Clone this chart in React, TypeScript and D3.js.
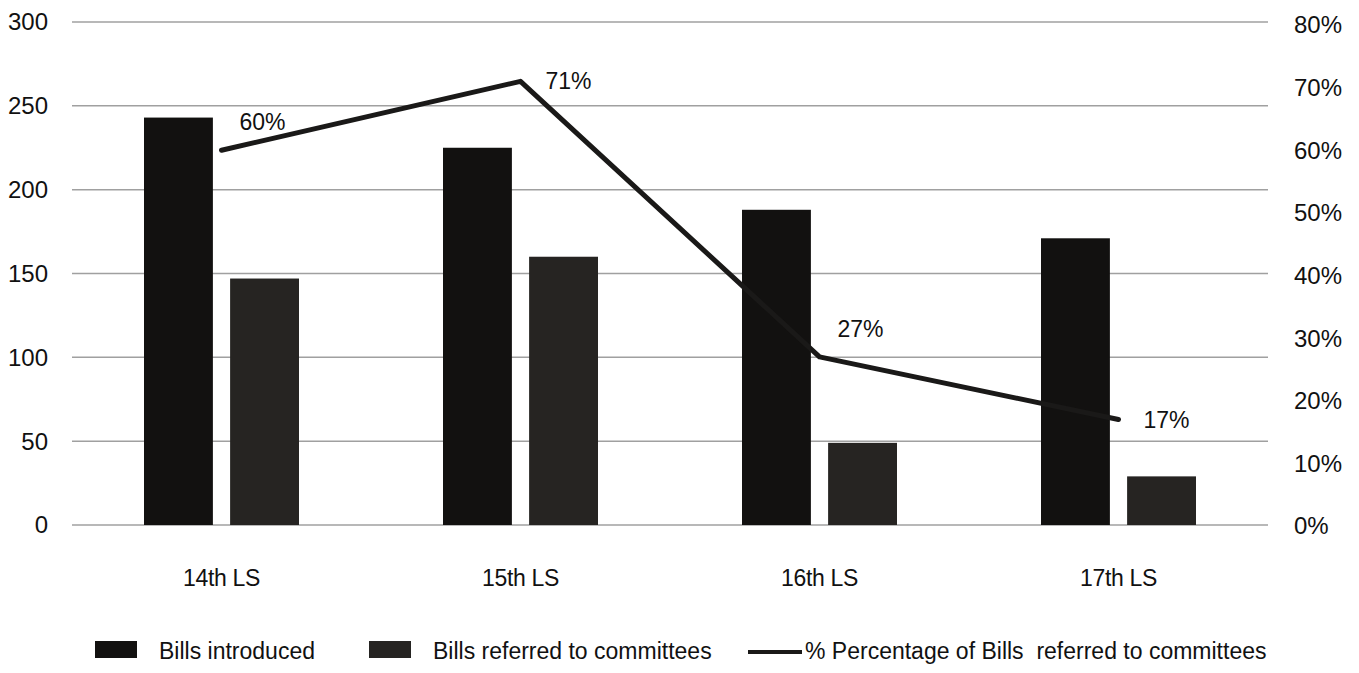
import React, { useEffect, useRef } from 'react';
import * as d3 from 'd3';

const sessions = ['14th LS', '15th LS', '16th LS', '17th LS'];
const billsIntroduced = [243, 225, 188, 171];
const billsReferred = [147, 160, 49, 29];
const pctReferred = [0.6, 0.71, 0.27, 0.17];
const leftTicks = [0, 50, 100, 150, 200, 250, 300];
const rightTicks = [0, 0.1, 0.2, 0.3, 0.4, 0.5, 0.6, 0.7, 0.8];
const seriesNames = ['Bills introduced', 'Bills referred to committees'];
const lineName = '% Percentage of Bills  referred to committees';

// where each % label sits relative to its point
const labelPlacement = ['above', 'right', 'above', 'right'];

const W = 1359;
const H = 673;
const FONT = '"Liberation Sans", Arial, sans-serif';
const COLORS = ['#121110', '#262422'];

export default function App() {
  const ref = useRef<SVGSVGElement>(null);

  useEffect(() => {
    if (!ref.current) return;
    const svg = d3.select(ref.current);
    svg.selectAll('*').remove();

    const left = 72, right = 1268, top = 22, bottom = 525;

    const x = d3.scaleBand().domain(sessions).range([left, right]);
    const inner = d3.scaleBand().domain(seriesNames).range([-77.5, 77.5]).paddingInner(0.2);
    const y = d3.scaleLinear().domain([0, 300]).range([bottom, top]);
    const y2 = d3.scaleLinear().domain([0, 0.8]).range([bottom + 1, top + 3]);

    svg.append('rect').attr('width', W).attr('height', H).attr('fill', '#fff');

    // gridlines
    svg.append('g')
      .selectAll('line')
      .data(leftTicks)
      .join('line')
      .attr('x1', left).attr('x2', right)
      .attr('y1', d => y(d)).attr('y2', d => y(d))
      .attr('stroke', '#a0a0a0')
      .attr('stroke-width', 1.5);

    // left axis labels
    svg.append('g')
      .selectAll('text')
      .data(leftTicks)
      .join('text')
      .attr('x', 48)
      .attr('y', d => y(d))
      .attr('dy', '0.35em')
      .attr('text-anchor', 'end')
      .style('font', `24px ${FONT}`)
      .attr('fill', '#111')
      .text(d => d);

    // right axis labels
    svg.append('g')
      .selectAll('text')
      .data(rightTicks)
      .join('text')
      .attr('x', 1294)
      .attr('y', d => y2(d))
      .attr('dy', '0.35em')
      .style('font', `24px ${FONT}`)
      .attr('fill', '#111')
      .text(d => d3.format('.0%')(d));

    // bars
    const series = [billsIntroduced, billsReferred];
    series.forEach((vals, si) => {
      svg.append('g')
        .selectAll('rect')
        .data(vals)
        .join('rect')
        .attr('x', (_, i) => x(sessions[i])! + x.bandwidth() / 2 + inner(seriesNames[si])!)
        .attr('y', d => y(d))
        .attr('width', inner.bandwidth())
        .attr('height', d => bottom - y(d))
        .attr('fill', COLORS[si]);
    });

    // category labels
    svg.append('g')
      .selectAll('text')
      .data(sessions)
      .join('text')
      .attr('x', d => x(d)! + x.bandwidth() / 2)
      .attr('y', 586)
      .attr('text-anchor', 'middle')
      .style('font', `23px ${FONT}`)
      .style('letter-spacing', '-0.3px')
      .attr('fill', '#111')
      .text(d => d);

    // percentage line
    const pts: [number, number][] = pctReferred.map((p, i) => [x(sessions[i])! + x.bandwidth() / 2, y2(p)]);
    svg.append('path')
      .attr('d', d3.line()(pts))
      .attr('fill', 'none')
      .attr('stroke', '#1a1918')
      .attr('stroke-width', 5)
      .attr('stroke-linecap', 'round')
      .attr('stroke-linejoin', 'round');

    svg.append('g')
      .selectAll('text')
      .data(pctReferred)
      .join('text')
      .attr('x', (_, i) => pts[i][0] + (labelPlacement[i] === 'above' ? 18 : 25))
      .attr('y', (_, i) => pts[i][1] + (labelPlacement[i] === 'above' ? -20 : 8))
      .style('font', `23px ${FONT}`)
      .attr('fill', '#111')
      .text(d => d3.format('.0%')(d));

    // legend
    const lg = svg.append('g').style('font', `23px ${FONT}`).attr('fill', '#111');
    const legendX = [95, 369];
    seriesNames.forEach((name, i) => {
      lg.append('rect').attr('x', legendX[i]).attr('y', 641).attr('width', 42).attr('height', 17).attr('fill', COLORS[i]);
      lg.append('text').attr('x', legendX[i] + 64).attr('y', 659).text(name);
    });
    lg.append('line').attr('x1', 748).attr('x2', 802).attr('y1', 652).attr('y2', 652)
      .attr('stroke', '#1a1918').attr('stroke-width', 4);
    lg.append('text').attr('x', 805).attr('y', 659).style('white-space', 'pre').text(lineName);
  }, []);

  return (
    <svg ref={ref} width={W} height={H} style={{ position: 'absolute', left: 0, top: 0 }} />
  );
}
